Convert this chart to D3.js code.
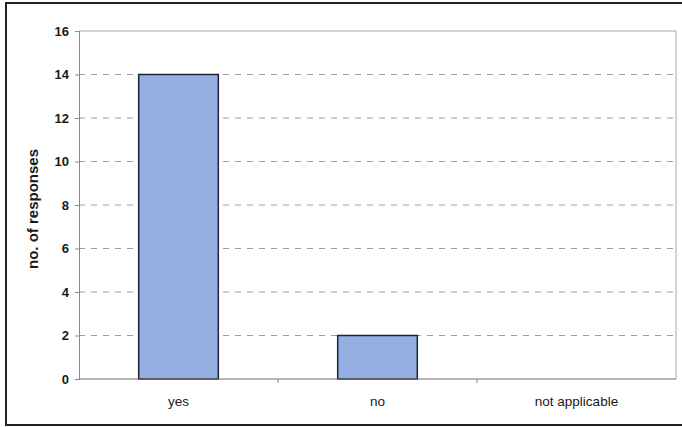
<!DOCTYPE html>
<html>
<head>
<meta charset="utf-8">
<script src="https://cdn.jsdelivr.net/npm/d3@7"></script>
<style>
  html, body { margin: 0; padding: 0; background: #fff; }
  svg { display: block; }
  text { font-family: "Liberation Sans", Arial, sans-serif; fill: #1a1a1a; }
</style>
</head>
<body>
<svg id="chart" width="682" height="427"></svg>
<script>
// Survey answers and their counts
const categories = ["yes", "no", "not applicable"];
const responses = [14, 2, 0];
const yTicks = [0, 2, 4, 6, 8, 10, 12, 14, 16];

const svg = d3.select("#chart");
const W = 682, H = 427;
const plot = { left: 79, right: 676, top: 31, bottom: 379 };

// Outer frame of the chart
svg.append("rect")
  .attr("x", 6).attr("y", 3)
  .attr("width", W + 10).attr("height", 422)
  .attr("fill", "#fff")
  .attr("stroke", "#222").attr("stroke-width", 2);

const x = d3.scaleBand()
  .domain(categories)
  .range([plot.left, plot.right])
  .paddingInner(0.6).paddingOuter(0.3);

const xBoundary = d3.scaleBand()
  .domain(categories)
  .range([plot.left, plot.right]);

const y = d3.scaleLinear()
  .domain([0, 16])
  .range([plot.bottom, plot.top]);

// Dashed horizontal gridlines
svg.append("g")
  .selectAll("line")
  .data(yTicks.filter(t => t > 0 && t < 16))
  .join("line")
  .attr("x1", plot.left).attr("x2", plot.right)
  .attr("y1", d => y(d)).attr("y2", d => y(d))
  .attr("stroke", "#a0a0a0")
  .attr("stroke-width", 1)
  .attr("stroke-dasharray", "6,6");

// Plot area outline (top and right sides)
svg.append("path")
  .attr("d", `M${plot.left},${plot.top}H${plot.right}V${plot.bottom}`)
  .attr("fill", "none")
  .attr("stroke", "#a8a8a8")
  .attr("stroke-width", 1);

// Bars
svg.append("g")
  .selectAll("rect")
  .data(categories.map((c, i) => ({ c, v: responses[i] })).filter(d => d.v > 0))
  .join("rect")
  .attr("x", d => x(d.c))
  .attr("width", x.bandwidth())
  .attr("y", d => y(d.v))
  .attr("height", d => y(0) - y(d.v))
  .attr("fill", "#95afe3")
  .attr("stroke", "#1c2233")
  .attr("stroke-width", 1.5);

// Y axis
const yAxis = svg.append("g")
  .attr("transform", `translate(${plot.left},0)`)
  .call(d3.axisLeft(y).tickValues(yTicks).tickSize(4).tickPadding(6));
yAxis.select(".domain").attr("stroke", "#8a8a8a");
yAxis.selectAll(".tick line").attr("stroke", "#8a8a8a");
yAxis.selectAll(".tick text")
  .attr("font-size", 13).attr("font-weight", "bold")
  .attr("fill", "#1a1a1a")
  .style("font-family", "'Liberation Sans', Arial, sans-serif");

// X axis with category boundary ticks
const xAxis = svg.append("g")
  .attr("transform", `translate(0,${plot.bottom})`);
xAxis.append("line")
  .attr("x1", plot.left).attr("x2", plot.right)
  .attr("stroke", "#6e6e6e").attr("stroke-width", 1);
xAxis.selectAll(".bt")
  .data(categories.slice(1))
  .join("line")
  .attr("class", "bt")
  .attr("x1", d => xBoundary(d)).attr("x2", d => xBoundary(d))
  .attr("y1", 0).attr("y2", 4)
  .attr("stroke", "#8a8a8a");
xAxis.selectAll(".lbl")
  .data(categories)
  .join("text")
  .attr("class", "lbl")
  .attr("x", d => xBoundary(d) + xBoundary.bandwidth() / 2)
  .attr("y", 27)
  .attr("text-anchor", "middle")
  .attr("font-size", 13.5)
  .text(d => d);

// Y axis title
svg.append("text")
  .attr("transform", `translate(38,${(plot.top + plot.bottom) / 2 + 4}) rotate(-90)`)
  .attr("text-anchor", "middle")
  .attr("font-size", 15)
  .attr("font-weight", "bold")
  .text("no. of responses");
</script>
</body>
</html>
